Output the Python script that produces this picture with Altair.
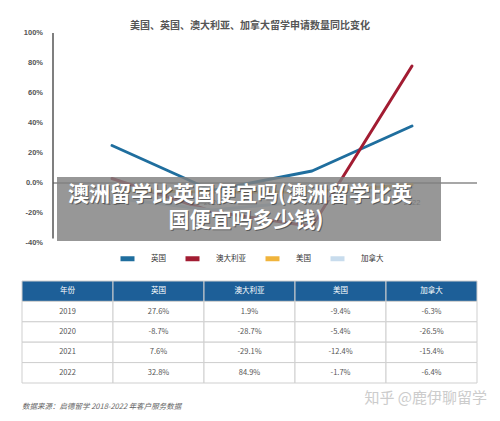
import altair as alt
import pandas as pd

# ---------------- data ----------------
years = [2019, 2020, 2021, 2022]
series = ["英国", "澳大利亚", "美国", "加拿大"]
colors = ["#1f6e9e", "#a21c32", "#f0b43c", "#c8dced"]
uk_vals = [25, -5, 8, 38]
au_vals = [3, -19, -29, 78]
us_vals = [-5, -6, -6, -1]
ca_vals = [-10, -18, -12, -3]

y_ticks = [100, 80, 60, 40, 20, 0, -20, -40]

chart_title = "美国、英国、澳大利亚、加拿大留学申请数量同比变化"
table_header = ["年份", "英国", "澳大利亚", "美国", "加拿大"]
row_2019 = ["2019", "27.6%", "1.9%", "-9.4%", "-6.3%"]
row_2020 = ["2020", "-8.7%", "-28.7%", "-5.4%", "-26.5%"]
row_2021 = ["2021", "7.6%", "-29.1%", "-12.4%", "-15.4%"]
row_2022 = ["2022", "32.8%", "84.9%", "-1.7%", "-6.4%"]
source_text = "数据来源：启德留学 2018-2022 年客户服务数据"
brand_text = "知乎 @鹿伊聊留学"
overlay_line1 = "澳洲留学比英国便宜吗(澳洲留学比英"
overlay_line2 = "国便宜吗多少钱)"

CJK = "Noto Sans CJK SC"
LAT = "Liberation Sans"

# ---------------- frames ----------------
rows = []
for name, vals in zip(series, [uk_vals, au_vals, us_vals, ca_vals]):
    for y, v in zip(years, vals):
        rows.append({"series": name, "year": y, "value": v})
line_df = pd.DataFrame(rows)

tick_df = pd.DataFrame({"v": y_ticks,
                        "label": ["0.0%" if t == 0 else f"{t}%" for t in y_ticks]})
year_df = pd.DataFrame({"year": years, "label": [str(y) for y in years]})

table_rows = [table_header, row_2019, row_2020, row_2021, row_2022]
cells = []
for r, row in enumerate(table_rows):
    for c, txt in enumerate(row):
        cells.append({"r": r, "c": c, "text": txt, "head": r == 0})
table_df = pd.DataFrame(cells)

# ---------------- scales ----------------
xq = alt.Scale(domain=[2019, 2022], range=[104, 404])
yq = alt.Scale(domain=[-40, 100], range=[235, 25])

axis_x = 2018.41
right_x = 2022.65

zero_rule = alt.Chart(pd.DataFrame({"v": [0]})).mark_rule(
    color="#8a8a8a", strokeWidth=1.5
).encode(
    x=alt.X(datum=axis_x, type="quantitative", scale=xq, axis=None),
    x2=alt.X2(datum=right_x),
    y=alt.Y("v:Q", scale=yq, axis=None),
)

y_axis_line = alt.Chart(pd.DataFrame({"a": [-37], "b": [100]})).mark_rule(
    color="#555555", strokeWidth=1.5
).encode(
    x=alt.X(datum=axis_x, type="quantitative", scale=xq, axis=None),
    y=alt.Y("a:Q", scale=yq, axis=None),
    y2="b:Q",
)

tick_labels = alt.Chart(tick_df).mark_text(
    align="right", baseline="middle", dx=-10, fontSize=7.5, font=LAT,
    fontWeight="bold", color="#555555"
).encode(
    x=alt.X(datum=axis_x, type="quantitative", scale=xq, axis=None),
    y=alt.Y("v:Q", scale=yq, axis=None),
    text="label:N",
)

year_labels = alt.Chart(year_df).mark_text(
    align="center", baseline="middle", fontSize=7.5, font=LAT, color="#555555"
).encode(
    x=alt.X("year:Q", scale=xq, axis=None),
    y=alt.Y(datum=-13, type="quantitative", scale=yq, axis=None),
    text="label:N",
)

lines = alt.Chart(line_df).mark_line(strokeWidth=3, strokeCap="round", strokeJoin="round").encode(
    x=alt.X("year:Q", scale=xq, axis=None),
    y=alt.Y("value:Q", scale=yq, axis=None),
    color=alt.Color(
        "series:N",
        scale=alt.Scale(domain=series, range=colors),
        legend=alt.Legend(
            orient="none", legendX=110, legendY=241, direction="horizontal",
            title=None, symbolType="stroke", symbolStrokeWidth=5, symbolSize=196,
            labelFontSize=7.5, labelFont=CJK, labelColor="#333333",
            labelOffset=14, columnPadding=9, padding=0,
        ),
    ),
    order=alt.Order("year:Q"),
)

line_part = alt.layer(zero_rule, y_axis_line, tick_labels, year_labels, lines)

# ---------------- table ----------------
xt = alt.Scale(range=[14, 469], paddingInner=0, paddingOuter=0)
yt = alt.Scale(range=[273, 375], paddingInner=0, paddingOuter=0)

cell_rects = alt.Chart(table_df).mark_rect(stroke="#cfcfcf", strokeWidth=1).encode(
    x=alt.X("c:O", scale=xt, axis=None),
    y=alt.Y("r:O", scale=yt, axis=None),
    fill=alt.condition(alt.datum.head, alt.value("#1d5f98"), alt.value("#ffffff")),
)
cell_text = alt.Chart(table_df).mark_text(fontSize=7.5, font=CJK, baseline="middle").encode(
    x=alt.X("c:O", scale=xt, axis=None),
    y=alt.Y("r:O", scale=yt, axis=None),
    text="text:N",
    color=alt.condition(alt.datum.head, alt.value("#ffffff"), alt.value("#555555")),
)
table_part = alt.layer(cell_rects, cell_text)

# ---------------- annotations ----------------
one = pd.DataFrame({"k": [0]})
title_mark = alt.Chart(one).mark_text(
    text=chart_title, fontSize=10, fontWeight="bold", font=CJK, color="#555555",
    align="center", baseline="middle"
).encode(x=alt.value(242), y=alt.value(18))

source_mark = alt.Chart(one).mark_text(
    text=source_text, fontSize=7.5, font=CJK, fontStyle="italic", color="#666666",
    align="left", baseline="middle"
).encode(x=alt.value(14), y=alt.value(399))

brand_mark = alt.Chart(one).mark_text(
    text=brand_text, fontSize=15, font=CJK, color="#cccccc",
    align="right", baseline="middle"
).encode(x=alt.value(479), y=alt.value(390))

overlay_box = alt.Chart(one).mark_rect(color="#808080", opacity=0.82).encode(
    x=alt.value(49), x2=alt.value(433), y=alt.value(169), y2=alt.value(233)
)
shadow1 = alt.Chart(one).mark_text(
    text=overlay_line1, fontSize=21, fontWeight="bold", font=CJK, color="#333333",
    opacity=0.6, align="center", baseline="middle"
).encode(x=alt.value(233), y=alt.value(188))
shadow2 = alt.Chart(one).mark_text(
    text=overlay_line2, fontSize=21, fontWeight="bold", font=CJK, color="#333333",
    opacity=0.6, align="center", baseline="middle"
).encode(x=alt.value(239), y=alt.value(214))
over1 = alt.Chart(one).mark_text(
    text=overlay_line1, fontSize=21, fontWeight="bold", font=CJK, color="#ffffff",
    align="center", baseline="middle"
).encode(x=alt.value(232), y=alt.value(187))
over2 = alt.Chart(one).mark_text(
    text=overlay_line2, fontSize=21, fontWeight="bold", font=CJK, color="#ffffff",
    align="center", baseline="middle"
).encode(x=alt.value(238), y=alt.value(213))

annot = alt.layer(title_mark, source_mark, brand_mark, overlay_box, shadow1, shadow2, over1, over2)

chart = alt.layer(line_part, table_part, annot).resolve_scale(
    x="independent", y="independent"
).properties(
    width=484, height=405, padding=0, autosize=alt.AutoSizeParams(type="none"),
    background="white",
).configure_view(stroke=None)

chart.save("out.html", embed_options={"renderer": "svg", "actions": False})
